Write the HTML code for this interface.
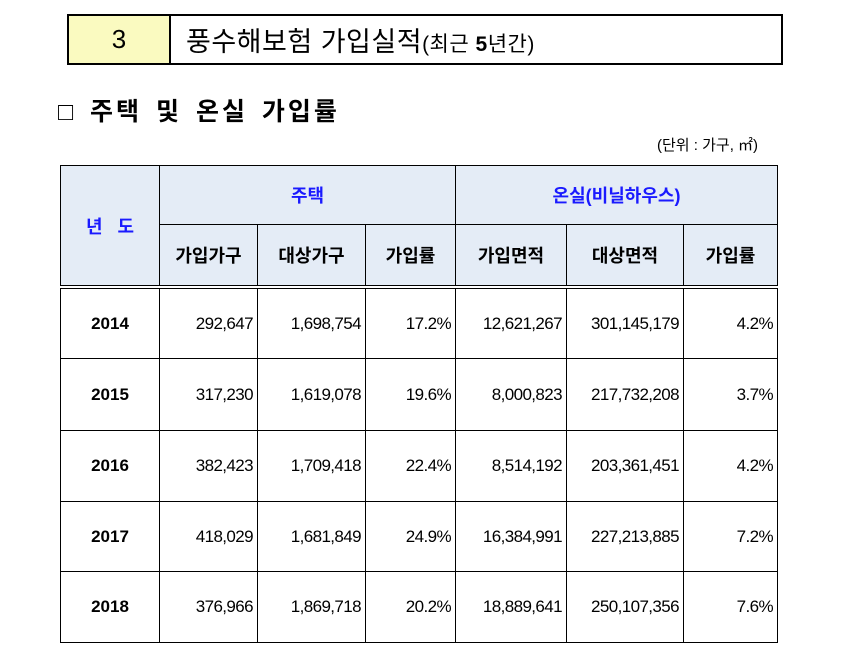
<!DOCTYPE html>
<html><head><meta charset="utf-8"><style>
body{margin:0;width:851px;height:664px;background:#fff;position:relative;overflow:hidden;font-family:"Liberation Sans","Noto Sans CJK KR",sans-serif;color:#000}
.a{position:absolute;box-sizing:border-box}
.c{position:absolute;box-sizing:border-box;border:1px solid #000;display:flex;align-items:center;justify-content:center;font-size:16px}
.h{background:#e4ecf6;font-weight:bold;font-size:18px}
.blue{color:#1a1aff}
.n{justify-content:flex-end;padding-right:4px;font-size:17px;letter-spacing:-0.6px}
.y{font-weight:bold;font-size:17px}
</style></head><body>
<div class="a" style="left:67px;top:14px;width:716px;height:51px;border:2px solid #000"></div>
<div class="a" style="left:69px;top:16px;width:102px;height:47px;background:#fafac0;border-right:2px solid #000;display:flex;align-items:center;justify-content:center;font-size:26px">3</div>
<div class="a" style="left:186px;top:20px;font-size:27px;white-space:nowrap;letter-spacing:0.5px">풍수해보험 가입실적<span style="font-size:21px">(최근 <b>5</b>년간)</span></div>
<div class="a" style="left:58px;top:92px;font-size:25px;font-weight:bold;white-space:nowrap;letter-spacing:3px;word-spacing:4px">□ 주택 및 온실 가입률</div>
<div class="a" style="left:657px;top:134px;font-size:15px;white-space:nowrap">(단위 : 가구, ㎡)</div>
<div id="t"></div>
<script>
const years=["2014","2015","2016","2017","2018"];
const houseJoined=["292,647","317,230","382,423","418,029","376,966"];
const houseTarget=["1,698,754","1,619,078","1,709,418","1,681,849","1,869,718"];
const houseRate=["17.2%","19.6%","22.4%","24.9%","20.2%"];
const ghJoined=["12,621,267","8,000,823","8,514,192","16,384,991","18,889,641"];
const ghTarget=["301,145,179","217,732,208","203,361,451","227,213,885","250,107,356"];
const ghRate=["4.2%","3.7%","4.2%","7.2%","7.6%"];
const xs=[60,159,257,365,455,566,683,777];
const rowsY=[288,358,430,501,571,642];
const root=document.getElementById('t');
function cell(x1,y1,x2,y2,txt,cls,name){
 const d=document.createElement('div');
 d.className='c '+cls;
 d.style.left=x1+'px';d.style.top=y1+'px';d.style.width=(x2-x1+1)+'px';d.style.height=(y2-y1+1)+'px';
 d.textContent=txt;
 
 
 root.appendChild(d);return d;
}
cell(xs[0],165,xs[1],285,"년   도","h blue","year-header").style.whiteSpace="pre";
cell(xs[1],165,xs[4],224,"주택","h blue","housing-header");
cell(xs[4],165,xs[7],224,"온실(비닐하우스)","h blue","greenhouse-header");
const subs=["가입가구","대상가구","가입률","가입면적","대상면적","가입률"];
subs.forEach((s,i)=>cell(xs[i+1],224,xs[i+2],285,s,"h","subheader-"+(i+1)));
const cols=[houseJoined,houseTarget,houseRate,ghJoined,ghTarget,ghRate];
years.forEach((yr,r)=>{
 cell(xs[0],rowsY[r],xs[1],rowsY[r+1],yr,"y","year-"+yr);
 cols.forEach((c,i)=>cell(xs[i+1],rowsY[r],xs[i+2],rowsY[r+1],c[r],"n","cell-"+yr+"-"+(i+1)));
});
const dl=document.createElement('div');
dl.className='a';
dl.style.cssText='left:60px;top:285px;width:718px;height:4px;border-top:1px solid #000;border-bottom:1px solid #000;background:#fff';


root.appendChild(dl);
</script>
</body></html>
